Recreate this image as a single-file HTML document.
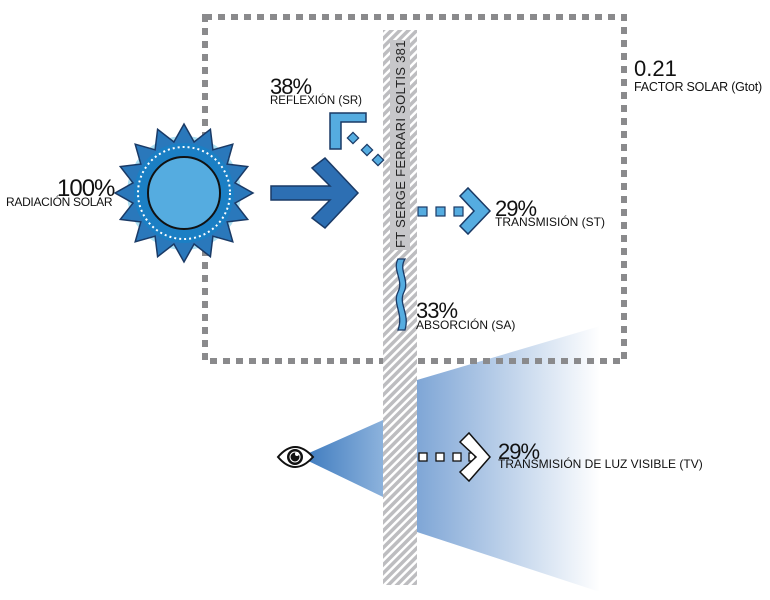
<!DOCTYPE html>
<html><head><meta charset="utf-8"><style>
html,body{margin:0;padding:0;background:#fff;}
svg{display:block;font-family:"Liberation Sans",sans-serif;}
</style></head><body>
<svg id="s" width="770" height="600" viewBox="0 0 770 600" xmlns="http://www.w3.org/2000/svg">
<defs>
<pattern id="h" width="6" height="6" patternUnits="userSpaceOnUse" patternTransform="rotate(45)">
<rect width="6" height="6" fill="#bdbdc0"/><rect width="2.5" height="6" fill="#fff"/>
</pattern>
<linearGradient id="g1" x1="0" x2="1" y1="0" y2="0"><stop offset="0" stop-color="#7fa6d6"/><stop offset="1" stop-color="#fff"/></linearGradient>
<linearGradient id="g2" x1="0" x2="1" y1="0" y2="0"><stop offset="0" stop-color="#3a78bd"/><stop offset="1" stop-color="#8cb2dc"/></linearGradient>
</defs>
<!-- light cones -->
<polygon points="417,380 600,326 600,592 417,532" fill="url(#g1)"/>
<polygon points="300,457 383,420 383,497" fill="url(#g2)"/>
<!-- dashed box -->
<rect x="205" y="17" width="419" height="344" fill="none" stroke="#8a8a8c" stroke-width="6" stroke-dasharray="7 6"/>
<!-- panel -->
<rect x="383" y="30" width="34" height="555" fill="url(#h)"/>
<rect x="390" y="40" width="20" height="210" fill="#c7c7ca"/>
<text transform="translate(405,248) rotate(-90)" font-size="13" fill="#222" letter-spacing="0.3">FT SERGE FERRARI SOLTIS 381</text>
<!-- sun -->
<g id="sun"></g>
<!-- big arrow -->
<polygon points="271,186 330,186 312,168 325,158 358,193 325,228 312,218 330,200 271,200" fill="#2d6fb3" stroke="#1a3a66" stroke-width="1.5"/>
<!-- reflection -->
<polygon points="330,113 366,113 366,122 341,122 341,149 330,149" fill="#55ace0" stroke="#1a3a66" stroke-width="1.5"/>
<g fill="#55ace0" stroke="#1a3a66" stroke-width="1.2">
<rect x="349" y="134" width="8" height="8" transform="rotate(45 353 138)"/>
<rect x="363" y="146" width="8" height="8" transform="rotate(45 367 150)"/>
<rect x="374" y="156" width="8" height="8" transform="rotate(45 378 160)"/>
</g>
<!-- transmission -->
<g fill="#55ace0" stroke="#1a3a66" stroke-width="1.2">
<rect x="418" y="207" width="9" height="9"/><rect x="436" y="207" width="9" height="9"/><rect x="454" y="207" width="9" height="9"/>
</g>
<polygon points="460,196 468,188 490,211 468,234 460,226 474,211" fill="#55ace0" stroke="#1a3a66" stroke-width="1.5"/>
<!-- absorption wave -->
<path d="M398,259 L405,259 C398,270 410,280 404,292 C398,304 410,313 405,330 L398,330 C404,313 392,304 398,292 C404,280 392,270 398,259Z" fill="#55ace0" stroke="#1a3a66" stroke-width="1.3"/>
<!-- visible light -->
<g fill="#fff" stroke="#111" stroke-width="1.3">
<rect x="419" y="453" width="8" height="8"/><rect x="436" y="453" width="8" height="8"/><rect x="453" y="453" width="8" height="8"/><rect x="469" y="453" width="6" height="8"/>
</g>
<polygon points="460,442 469,433 490,457 469,481 460,472 476,457" fill="#fff" stroke="#111" stroke-width="1.5"/>
<!-- eye -->
<path d="M278,457 Q295,437 313,457 Q295,477 278,457Z" fill="#fff" stroke="#111" stroke-width="2"/>
<circle cx="295" cy="457" r="8" fill="#111"/><circle cx="295" cy="457" r="5" fill="none" stroke="#fff" stroke-width="1"/><circle cx="297" cy="454" r="2" fill="#fff"/>
<!-- text -->
<g fill="#111">
<text x="57" y="196" font-size="24" letter-spacing="-1">100%</text>
<text x="6" y="206" font-size="12" letter-spacing="-0.3">RADIACIÓN SOLAR</text>
<text x="270" y="94" font-size="22" letter-spacing="-1">38%</text>
<text x="270" y="104" font-size="11.5">REFLEXIÓN (SR)</text>
<text x="634" y="76" font-size="22">0.21</text>
<text x="634" y="91" font-size="12.5" letter-spacing="-0.2">FACTOR SOLAR (Gtot)</text>
<text x="495" y="216" font-size="22" letter-spacing="-1">29%</text>
<text x="495" y="226" font-size="12">TRANSMISIÓN (ST)</text>
<text x="416" y="318" font-size="22" letter-spacing="-1">33%</text>
<text x="416" y="329" font-size="12">ABSORCIÓN (SA)</text>
<text x="498" y="459" font-size="22" letter-spacing="-1">29%</text>
<text x="498" y="468" font-size="12">TRANSMISIÓN DE LUZ VISIBLE (TV)</text>
</g>
</svg>
<script>
(function(){
var g=document.getElementById('sun'),cx=184,cy=193,n=16,s='';
var p=[];for(var i=0;i<2*n;i++){var r=i%2?52:69,a=Math.PI*i/n-Math.PI/2;p.push((cx+r*Math.cos(a)).toFixed(1)+','+(cy+r*Math.sin(a)).toFixed(1));}
s+='<circle cx="'+cx+'" cy="'+cy+'" r="57" fill="#ade0f3"/>';
s+='<polygon points="'+p.join(' ')+'" fill="#2a78bb" stroke="#1a3a66" stroke-width="1.5"/>';
s+='<circle cx="'+cx+'" cy="'+cy+'" r="50" fill="#1b7fc4"/>';
s+='<circle cx="'+cx+'" cy="'+cy+'" r="46" fill="none" stroke="#fff" stroke-width="2" stroke-dasharray="2 3"/>';
s+='<circle cx="'+cx+'" cy="'+cy+'" r="36" fill="#55ace0" stroke="#111" stroke-width="2"/>';
g.innerHTML=s;
})();
</script>
</body></html>
